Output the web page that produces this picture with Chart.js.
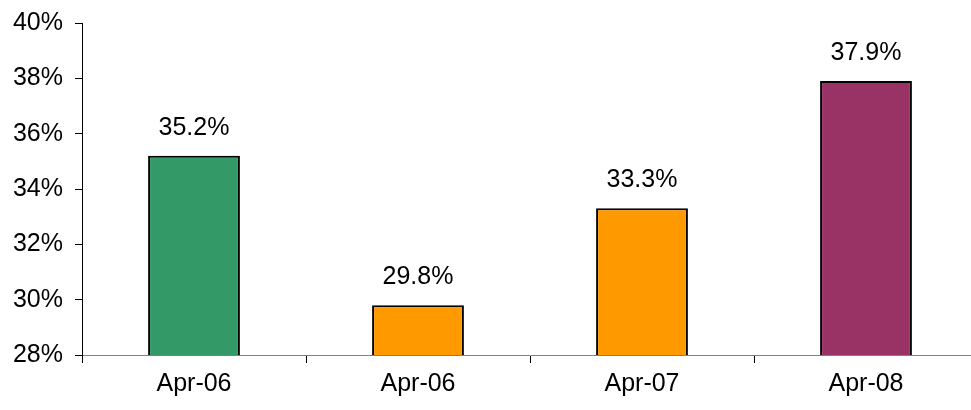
<!DOCTYPE html>
<html>
<head>
<meta charset="utf-8">
<script src="https://cdn.jsdelivr.net/npm/chart.js@4"></script>
<style>
  html, body { margin: 0; padding: 0; background: #fff; overflow: hidden; }
  #wrap { width: 971px; height: 410px; overflow: hidden; }
  #box { width: 980px; height: 414px; margin-top: -4px; }
</style>
</head>
<body>
<div id="wrap"><div id="box"><canvas id="shareChart"></canvas></div></div>
<script>
const periods = ["Apr-06", "Apr-06", "Apr-07", "Apr-08"];
const shares = [35.2, 29.8, 33.3, 37.9];
const barColours = ["#339966", "#FF9900", "#FF9900", "#993366"];
const yTicks = [28, 30, 32, 34, 36, 38, 40];

const FONT = "'Liberation Sans', Arial, sans-serif";
const FONT_SIZE = 25;

// writes the percentage above each bar
const valueLabels = {
  id: "valueLabels",
  afterDatasetsDraw(chart) {
    const ctx = chart.ctx;
    const meta = chart.getDatasetMeta(0);
    ctx.save();
    ctx.font = FONT_SIZE + "px " + FONT;
    ctx.fillStyle = "#000";
    ctx.textAlign = "center";
    ctx.textBaseline = "alphabetic";
    meta.data.forEach((bar, i) => {
      ctx.fillText(shares[i].toFixed(1) + "%", bar.x, bar.y - 21);
    });
    ctx.restore();
  },
};

new Chart(document.getElementById("shareChart"), {
  type: "bar",
  data: {
    labels: periods,
    datasets: [
      {
        data: shares,
        backgroundColor: barColours,
        borderColor: "#000",
        borderWidth: 2,
        borderSkipped: false,
        barPercentage: 0.41,
        categoryPercentage: 1,
      },
    ],
  },
  options: {
    responsive: true,
    maintainAspectRatio: false,
    animation: false,
    layout: { padding: { top: 7, right: 2, left: 0, bottom: 5 } },
    scales: {
      x: {
        grid: {
          offset: true,
          drawOnChartArea: false,
          drawTicks: true,
          tickLength: 8,
          color: "#000",
        },
        border: { color: "#808080", width: 1 },
        ticks: { color: "#000", font: { family: FONT, size: FONT_SIZE }, padding: 6 },
      },
      y: {
        min: 28,
        max: 40,
        afterBuildTicks(scale) {
          scale.ticks = yTicks.map((v) => ({ value: v }));
        },
        afterFit(scale) {
          scale.width = 82;
        },
        grid: {
          drawOnChartArea: false,
          drawTicks: true,
          tickLength: 7,
          color: "#000",
        },
        border: { color: "#000", width: 1 },
        ticks: {
          color: "#000",
          font: { family: FONT, size: FONT_SIZE },
          padding: 12,
          callback: (v) => v + "%",
        },
      },
    },
    plugins: {
      legend: { display: false },
      tooltip: { enabled: false },
    },
  },
  plugins: [valueLabels],
});
</script>
</body>
</html>
